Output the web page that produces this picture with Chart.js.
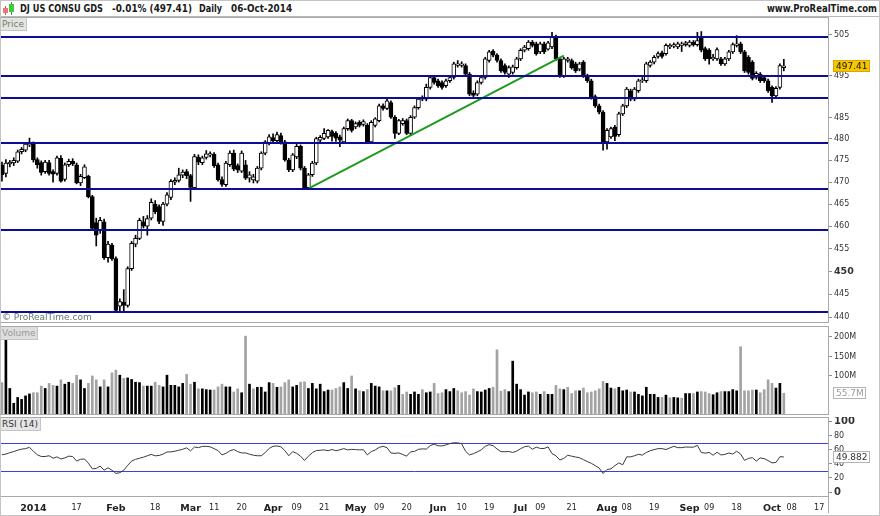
<!DOCTYPE html>
<html>
<head>
<meta charset="utf-8">
<script src="https://cdn.jsdelivr.net/npm/chart.js@4.4.1/dist/chart.umd.min.js"></script>
<style>
  body { margin: 0; background: #fff; font-family: "DejaVu Sans", sans-serif; }
  #wrap { position: relative; width: 880px; height: 516px; overflow: hidden; background: #fff; }
  .pane { position: absolute; left: 0; width: 880px; }
  .txt { position: absolute; white-space: nowrap; font-family: "DejaVu Sans", sans-serif; }
  .tag { position: absolute; left: 0; font-size: 9px; line-height: 12px; padding: 0 2px; border-right: 1px solid #c4c4c4; border-bottom: 1px solid #c4c4c4; }
  .head { top: 2px; font-size: 10.5px; font-weight: bold; color: #1a1a1a; transform-origin: 0 0; }
</style>
</head>
<body>
<div id="wrap">
  <!-- header -->
  <div style="position:absolute;left:0;top:0;width:880px;height:17px;border-bottom:1px solid #b8b8b8;box-sizing:border-box;"></div>
  <div style="position:absolute;left:5px;top:6px;width:1px;height:9px;background:#c05050"></div>
  <div style="position:absolute;left:3px;top:8px;width:5px;height:5px;background:#e87878"></div>
  <div style="position:absolute;left:11px;top:2px;width:1px;height:13px;background:#2a9a2a"></div>
  <div style="position:absolute;left:9px;top:4px;width:5px;height:8px;background:#44c844"></div>
  <span class="txt head" style="left:20px" data-w="83">DJ US CONSU GDS</span>
  <span class="txt head" style="left:112px" data-w="80">-0.01% (497.41)</span>
  <span class="txt head" style="left:199px" data-w="23">Daily</span>
  <span class="txt head" style="left:231px" data-w="61">06-Oct-2014</span>
  <span class="txt head" style="left:767px" data-w="110">www.ProRealTime.com</span>

  <div class="pane" style="top:17px;height:306px"><canvas id="price" width="880" height="306"></canvas></div>
  <div class="pane" style="top:326px;height:89px"><canvas id="volume" width="880" height="89"></canvas></div>
  <div class="pane" style="top:417px;height:99px"><canvas id="rsi" width="880" height="99"></canvas></div>

  <div class="tag txt" style="top:18px;background:#e4e4e4;color:#6e7f5e">Price</div>
  <span class="txt" style="left:2px;top:312px;font-size:9px;color:#5f7a68">© ProRealTime.com</span>
  <div class="tag txt" style="top:327px;background:#dedede;color:#9a9a9a">Volume</div>
  <div class="tag txt" style="top:418px;background:#e6e6e6;color:#333">RSI (14)</div>
  <div style="position:absolute;left:0;top:0;width:880px;height:516px;border:1px solid #c4c4c4;box-sizing:border-box;pointer-events:none"></div>
</div>

<script>
// trading days, Dec 19 2013 .. Oct 21 2014 (last 11 are empty future slots)
const tradingDays = {
  "2013-12": [19, 20, 23, 24, 26, 27, 30, 31],
  "2014-01": [2, 3, 6, 7, 8, 9, 10, 13, 14, 15, 16, 17, 21, 22, 23, 24, 27, 28, 29, 30, 31],
  "2014-02": [3, 4, 5, 6, 7, 10, 11, 12, 13, 14, 18, 19, 20, 21, 24, 25, 26, 27, 28],
  "2014-03": [3, 4, 5, 6, 7, 10, 11, 12, 13, 14, 17, 18, 19, 20, 21, 24, 25, 26, 27, 28, 31],
  "2014-04": [1, 2, 3, 4, 7, 8, 9, 10, 11, 14, 15, 16, 17, 21, 22, 23, 24, 25, 28, 29, 30],
  "2014-05": [1, 2, 5, 6, 7, 8, 9, 12, 13, 14, 15, 16, 19, 20, 21, 22, 23, 27, 28, 29, 30],
  "2014-06": [2, 3, 4, 5, 6, 9, 10, 11, 12, 13, 16, 17, 18, 19, 20, 23, 24, 25, 26, 27, 30],
  "2014-07": [1, 2, 3, 7, 8, 9, 10, 11, 14, 15, 16, 17, 18, 21, 22, 23, 24, 25, 28, 29, 30, 31],
  "2014-08": [1, 4, 5, 6, 7, 8, 11, 12, 13, 14, 15, 18, 19, 20, 21, 22, 25, 26, 27, 28, 29],
  "2014-09": [2, 3, 4, 5, 8, 9, 10, 11, 12, 15, 16, 17, 18, 19, 22, 23, 24, 25, 26, 29, 30],
  "2014-10": [1, 2, 3, 6, 7, 8, 9, 10, 13, 14, 15, 16, 17, 20, 21]
};

// [date, text, bold]
const xTicks = [
  ["2014-01-02", "2014", 1], ["2014-01-17", "17", 0], ["2014-02-03", "Feb", 1], ["2014-02-18", "18", 0],
  ["2014-03-03", "Mar", 1], ["2014-03-11", "11", 0], ["2014-03-20", "20", 0], ["2014-04-01", "Apr", 1],
  ["2014-04-09", "09", 0], ["2014-04-21", "21", 0], ["2014-05-01", "May", 1], ["2014-05-09", "09", 0],
  ["2014-05-20", "20", 0], ["2014-06-02", "Jun", 1], ["2014-06-10", "10", 0], ["2014-06-19", "19", 0],
  ["2014-07-01", "Jul", 1], ["2014-07-09", "09", 0], ["2014-07-21", "21", 0], ["2014-08-01", "Aug", 1],
  ["2014-08-08", "08", 0], ["2014-08-19", "19", 0], ["2014-09-02", "Sep", 1], ["2014-09-09", "09", 0],
  ["2014-09-18", "18", 0], ["2014-10-01", "Oct", 1], ["2014-10-08", "08", 0], ["2014-10-17", "17", 0]
];

const opens = [
  474.0,472.0,474.2,474.4,474.8,477.0,477.4,478.6,479.0,475.2,
  474.5,472.4,474.5,472.4,472.0,475.5,470.6,474.0,474.8,474.0,
  469.8,471.0,471.3,466.7,460.8,459.0,461.0,453.0,455.8,452.8,
  442.4,443.3,442.6,450.6,456.0,457.3,461.0,460.0,461.8,465.0,
  464.4,461.1,465.0,466.5,470.0,470.4,471.6,472.4,471.5,468.7,
  475.8,474.5,475.7,476.2,476.4,474.0,470.6,469.4,474.0,476.7,
  473.8,472.5,474.0,470.9,470.5,470.2,473.2,476.7,479.0,480.3,
  479.6,480.8,479.3,475.1,472.8,475.8,478.3,473.2,468.7,471.7,
  474.4,479.7,480.1,480.5,481.7,481.3,480.5,479.3,482.4,484.3,
  482.8,483.9,483.4,483.2,479.3,483.2,484.3,487.8,487.2,488.6,
  485.1,481.3,483.6,484.3,481.3,485.1,487.4,489.8,489.4,492.2,
  494.6,493.8,493.4,492.6,493.8,494.6,497.5,497.5,497.5,495.4,
  490.8,490.6,493.4,494.6,498.7,501.0,500.0,498.7,497.5,495.4,
  495.8,497.0,499.1,501.2,501.6,503.2,502.8,500.8,502.8,501.5,
  502.0,504.5,499.1,495.0,498.7,498.7,497.9,496.6,498.3,495.0,
  493.8,490.0,487.8,486.3,479.3,480.5,482.8,481.0,485.9,487.8,
  491.4,489.4,491.4,493.8,493.8,497.5,498.3,499.7,500.6,500.4,
  502.0,502.2,502.0,502.4,502.6,502.4,503.2,502.6,504.4,501.6,
  501.2,499.1,499.1,499.1,497.9,499.1,500.8,502.4,502.8,500.8,
  499.5,498.3,494.6,495.4,494.6,493.8,492.2,490.2,492.2,497.0
];
const highs = [
  474.6,475.2,475.0,475.6,477.4,478.0,479.0,480.2,479.3,475.6,
  474.9,475.0,475.0,472.8,476.0,476.1,474.4,475.3,475.4,474.4,
  471.8,474.0,471.6,467.0,461.8,462.0,461.6,456.6,456.2,453.2,
  444.0,446.0,451.0,456.6,458.0,461.8,462.2,462.4,466.2,465.8,
  464.8,465.4,467.6,470.6,471.0,473.2,472.8,472.9,471.8,476.4,
  476.3,476.0,477.3,477.0,476.8,474.4,471.2,474.8,477.2,477.4,
  474.2,477.2,475.0,472.4,471.8,473.6,477.0,479.6,481.0,481.2,
  481.6,481.4,479.7,475.5,476.6,478.8,478.6,473.6,472.0,474.8,
  480.4,480.8,482.4,482.2,482.1,481.7,480.9,482.8,484.7,484.6,
  484.0,484.3,484.5,483.6,484.3,485.0,488.2,488.3,489.4,489.0,
  485.5,484.6,484.8,484.7,485.5,487.8,489.8,490.2,493.0,495.0,
  495.0,494.2,493.8,494.2,495.0,498.3,498.7,498.4,497.9,495.8,
  491.4,493.8,495.0,499.5,501.2,501.4,500.4,499.1,497.9,497.4,
  497.6,499.5,501.6,502.4,503.6,503.6,503.2,503.2,503.2,503.4,
  505.6,504.9,499.5,499.5,499.5,499.1,498.3,498.3,498.7,495.4,
  494.2,490.4,488.2,486.7,482.4,482.8,483.2,486.3,488.2,492.2,
  491.8,492.2,494.2,494.6,498.3,498.7,499.9,500.8,501.0,502.8,
  502.8,503.0,503.2,503.2,503.4,503.6,503.6,505.6,505.8,502.0,
  501.6,500.2,501.8,499.5,499.5,501.2,503.0,504.8,503.2,501.2,
  499.9,498.7,496.0,495.8,495.0,494.2,492.6,492.4,497.9,499.0
];
const lows = [
  470.2,471.2,473.5,473.8,474.5,476.5,477.0,478.2,474.6,473.2,
  471.6,472.0,471.6,470.0,471.6,470.0,470.2,473.6,473.8,469.6,
  469.2,470.8,466.4,459.2,455.6,458.4,452.6,452.0,452.4,441.0,
  441.0,441.2,442.2,450.2,455.4,457.0,459.6,458.0,461.4,462.8,
  460.6,460.2,464.6,466.0,469.4,470.0,471.0,470.8,465.6,468.4,
  474.0,474.0,475.3,475.8,473.4,470.2,469.0,469.0,473.6,472.6,
  472.2,472.2,470.6,470.0,469.8,469.8,472.8,476.3,478.6,479.2,
  479.2,478.8,474.8,472.4,472.4,475.4,472.8,468.3,468.4,471.3,
  474.0,479.3,479.8,480.1,479.5,479.4,478.2,479.0,482.0,481.6,
  482.4,482.8,483.0,479.0,479.0,482.8,484.0,486.8,486.9,484.8,
  480.1,481.0,483.2,481.0,481.0,484.8,487.0,489.0,489.0,491.8,
  493.0,492.2,491.8,492.2,493.4,494.2,497.1,497.1,495.0,490.2,
  489.5,490.2,493.0,494.2,498.3,499.6,498.3,495.8,495.4,494.6,
  495.4,496.6,498.7,500.8,501.2,502.0,500.0,500.4,500.4,501.2,
  501.6,498.7,494.6,494.6,498.3,496.6,495.8,496.2,494.6,493.4,
  489.4,487.4,485.9,477.4,477.6,480.1,479.6,480.6,485.5,487.4,
  489.0,489.0,491.0,493.4,493.4,497.1,497.9,499.3,499.3,500.0,
  501.6,501.8,501.6,500.9,502.2,502.0,502.2,502.2,500.8,498.7,
  497.8,498.7,498.7,497.5,497.5,498.7,500.4,502.0,500.4,495.8,
  495.4,494.0,494.2,493.4,493.4,491.0,488.6,489.8,491.8,496.2
];
const closes = [
  471.7,474.4,474.6,475.0,477.0,477.6,478.8,479.0,475.1,474.0,
  472.2,474.6,472.0,471.8,475.6,470.2,474.0,474.8,474.2,469.8,
  471.3,473.5,466.7,459.5,458.0,461.3,453.0,456.0,452.8,441.5,
  443.4,442.6,450.6,456.2,457.3,461.3,460.0,461.7,465.4,463.3,
  461.1,465.0,467.1,470.2,470.4,471.7,472.3,471.5,468.8,475.9,
  474.6,475.6,476.5,476.6,473.8,470.5,469.5,474.4,476.7,473.0,
  472.8,476.7,470.9,471.7,471.2,473.2,476.7,479.3,480.5,479.6,
  481.0,479.3,475.1,472.8,476.3,478.3,473.2,468.7,471.7,474.4,
  480.1,480.4,481.3,482.0,480.6,480.2,479.7,482.4,484.3,482.0,
  483.6,483.2,484.1,479.3,483.9,484.7,487.8,487.2,489.0,485.1,
  481.3,484.3,484.3,481.3,485.1,487.4,489.4,489.4,492.2,494.6,
  493.4,492.6,492.2,493.8,494.6,497.9,497.9,497.9,495.4,490.6,
  490.3,493.4,494.6,499.1,500.8,500.0,498.7,496.2,495.8,497.0,
  497.2,499.1,501.2,502.0,503.2,502.4,500.4,502.8,500.8,503.0,
  504.5,499.1,495.0,499.1,499.1,497.0,496.2,497.9,495.0,493.8,
  489.8,487.8,486.3,479.3,482.0,482.4,480.6,485.9,487.8,491.8,
  489.4,491.8,493.8,494.0,497.9,498.3,499.5,500.4,499.7,502.4,
  502.4,502.6,502.8,502.8,503.0,503.2,502.6,503.6,501.2,499.1,
  499.1,499.5,501.4,497.9,499.1,500.8,502.6,502.8,500.8,496.2,
  495.8,494.4,495.6,493.8,493.8,491.4,490.2,492.0,497.46,497.41
];

// volume in millions
const volumes = [
  83,197,68,30,45,40,49,54,57,57,
  74,68,81,76,74,90,79,84,81,102,
  90,68,81,100,90,72,90,72,108,115,
  102,94,95,91,84,83,74,74,74,84,
  76,72,102,76,76,72,81,104,79,84,
  67,67,65,64,64,72,79,72,72,59,
  67,57,202,79,67,71,71,59,83,81,
  71,72,83,90,72,76,84,85,68,81,
  67,79,60,64,64,68,72,83,68,100,
  67,62,60,65,81,74,72,62,62,62,
  70,76,53,59,53,59,53,65,57,59,
  81,55,57,65,60,68,62,57,60,51,
  67,60,59,64,68,71,167,61,65,60,
  138,79,65,51,59,57,59,53,60,53,
  53,76,67,65,71,55,62,62,69,57,
  59,62,67,86,81,69,67,71,62,64,
  59,59,53,49,71,53,53,45,45,51,
  44,45,44,43,55,55,55,59,60,59,
  55,52,57,60,60,60,65,62,175,62,
  62,64,64,57,65,90,81,69,81,55.7
];

const rsiValues = [
  53,54,56,57.5,59.5,61,61.7,63.5,58,53,
  50.5,50.5,51.6,48,50,47,48.5,51,50.5,44,
  46.5,47,41,33,33.5,37,31,34.5,31,26.5,
  27.5,31,38,44,46.5,48,49.5,51.6,53.5,51.5,
  52,53.9,57,57.1,58,59.4,60.8,62.8,58.5,64,
  63.1,64.8,65,64.3,61.6,59,52.8,55,58.5,60.5,
  57.5,55.6,55.6,53.8,52.3,51.6,51.6,56,62,65,
  65.5,64.3,59,51.6,57.5,55,51,44.8,51,56,
  59,59.4,59.9,58.7,60.5,58.7,60,61.7,59.9,60.7,
  60.3,60,60.2,52.8,57.5,59.8,63.5,65,63.1,55.5,
  55,55.6,53.4,51,57.1,57.8,60.7,61.4,61,66,
  68.1,65.8,65.5,67,69,70,70,68.5,58,52.8,
  54.5,57.1,60,65,67.3,66,61.2,57.4,57.3,57.6,
  56.3,58.2,61.6,64.4,65.3,60.8,63.8,62,61.9,64.2,
  54.6,51.5,45.5,47.9,52.3,51,49.8,48.7,46,43.3,
  40.8,37.5,34,26.3,32,33,37.5,41.4,38.7,50,
  50,51.6,53.6,52.5,56.2,58.8,60.3,61.7,61.7,60.4,
  62.8,65,63.1,63.1,64,63.8,63.8,66.3,56.2,55.3,
  56.4,52.3,56.5,52.7,53.5,55.5,54,58,54,45,
  47.8,48.8,44,48.5,47.5,44.7,41.4,42,50.2,49.882
];

const supportLevels = [504.4, 495.0, 489.7, 479.0, 468.5, 459.1, 441.2];
const trendLine = [{ x: "2014-04-14", y: 468.5 }, { x: "2014-07-17", y: 499.9 }];
const priceTicks = [440, 445, 450, 455, 460, 465, 470, 475, 480, 485, 495, 505];
const volumeTicks = [100, 150, 200];
const rsiTicks = [0, 20, 40, 60, 80, 100];
const rsiBands = [70, 30];

// squeeze header texts to the widths seen in the original (Tahoma is narrower than DejaVu)
document.querySelectorAll(".head").forEach((el) => {
  const target = Number(el.dataset.w);
  const w = el.getBoundingClientRect().width;
  if (w > 0) el.style.transform = "scaleX(" + (target / w).toFixed(3) + ")";
});

const dates = [];
Object.entries(tradingDays).forEach(([m, days]) => {
  days.forEach((d) => dates.push(m + "-" + String(d).padStart(2, "0")));
});
const tickByDate = new Map(xTicks.map((t) => [t[0], t]));

const FONT = "DejaVu Sans";
const AXIS_W = 51;

// right axis, fixed width so the three panels line up
function rightAxis(extra) {
  return Object.assign({
    position: "right",
    border: { display: false },
    grid: { drawOnChartArea: false, drawTicks: true, tickLength: 3, tickColor: "#8c8c8c" },
    afterFit(s) {
      s.width = AXIS_W;
      s.paddingTop = 0;
      s.paddingBottom = 0;
    },
  }, extra);
}

function hiddenX() {
  return { type: "category", offset: true, display: false, grid: { display: false } };
}

// gray frame around the plot area
const framePlugin = {
  id: "frame",
  afterDraw(chart, args, opts) {
    const a = chart.chartArea, ctx = chart.ctx;
    ctx.save();
    ctx.strokeStyle = "#a9a9a9";
    ctx.lineWidth = 1;
    ctx.strokeRect(a.left + 0.5, a.top + 0.5, a.right - a.left - 1, a.bottom - a.top - 1);
    if (opts && opts.down) {
      ctx.beginPath();
      ctx.moveTo(a.right - 0.5, a.bottom);
      ctx.lineTo(a.right - 0.5, chart.height - 3);
      ctx.stroke();
    }
    ctx.restore();
  },
};

function drawTag(chart, value, text, style) {
  const s = chart.scales.y, ctx = chart.ctx;
  const y = Math.round(s.getPixelForValue(value));
  ctx.save();
  ctx.font = style.font;
  const w = Math.ceil(ctx.measureText(text).width) + 5;
  const x = chart.chartArea.right + 4;
  ctx.fillStyle = style.bg;
  ctx.fillRect(x, y - 6, w, 12);
  ctx.strokeStyle = style.border;
  ctx.strokeRect(x + 0.5, y - 5.5, w - 1, 11);
  ctx.fillStyle = style.color;
  ctx.textBaseline = "middle";
  ctx.fillText(text, x + 3, y + 0.5);
  ctx.restore();
}

// horizontal support/resistance lines + last price tag
const pricePlugin = {
  id: "priceExtras",
  afterDatasetsDraw(chart) {
    const a = chart.chartArea, ctx = chart.ctx, s = chart.scales.y;
    ctx.save();
    ctx.strokeStyle = "#0c0c96";
    ctx.lineWidth = 2;
    supportLevels.forEach((v) => {
      const y = Math.round(s.getPixelForValue(v));
      ctx.beginPath();
      ctx.moveTo(a.left, y);
      ctx.lineTo(a.right, y);
      ctx.stroke();
    });
    ctx.restore();
  },
  afterDraw(chart) {
    drawTag(chart, closes[closes.length - 1], closes[closes.length - 1].toFixed(2),
      { font: "9px " + FONT, bg: "#f6c700", border: "#d8a800", color: "#111" });
  },
};

const volumePlugin = {
  id: "volumeTag",
  afterDraw(chart) {
    drawTag(chart, volumes[volumes.length - 1], volumes[volumes.length - 1] + "M",
      { font: "9px " + FONT, bg: "#fff", border: "#b4b4b4", color: "#9a9a9a" });
  },
};

const rsiPlugin = {
  id: "rsiExtras",
  beforeDatasetsDraw(chart) {
    const a = chart.chartArea, ctx = chart.ctx, s = chart.scales.y;
    ctx.save();
    ctx.strokeStyle = "#3d3de0";
    ctx.lineWidth = 1;
    rsiBands.forEach((v) => {
      const y = Math.round(s.getPixelForValue(v)) + 0.5;
      ctx.beginPath();
      ctx.moveTo(a.left, y);
      ctx.lineTo(a.right, y);
      ctx.stroke();
    });
    ctx.restore();
  },
  afterDraw(chart) {
    drawTag(chart, rsiValues[rsiValues.length - 1], String(rsiValues[rsiValues.length - 1]),
      { font: "9px " + FONT, bg: "#fff", border: "#b4b4b4", color: "#333" });
  },
};

const isUp = closes.map((c, i) => c >= opens[i]);
const volColors = closes.map((c, i) => (c > (i ? closes[i - 1] : opens[i]) ? "#000" : "#a3a3a3"));

// price: candles as floating bars (wick + body)
new Chart(document.getElementById("price"), {
  type: "bar",
  data: {
    labels: dates,
    datasets: [
      {
        label: "body",
        data: opens.map((o, i) => [Math.min(o, closes[i]), Math.max(o, closes[i])]),
        backgroundColor: isUp.map((u) => (u ? "#fff" : "#000")),
        borderColor: "#000",
        borderWidth: 1,
        borderSkipped: false,
        barThickness: 4,
        minBarLength: 1,
        grouped: false,
        order: 1,
      },
      {
        label: "wick",
        data: lows.map((l, i) => [l, highs[i]]),
        backgroundColor: "#000",
        barThickness: 1,
        grouped: false,
        order: 2,
      },
      {
        type: "line",
        label: "trend",
        data: trendLine,
        borderColor: "#1f9a1f",
        borderWidth: 2,
        pointRadius: 0,
        order: 0,
      },
    ],
  },
  options: {
    responsive: false,
    animation: false,
    devicePixelRatio: 1,
    layout: { padding: 0 },
    plugins: { legend: { display: false }, tooltip: { enabled: false }, frame: {} },
    scales: {
      x: hiddenX(),
      y: rightAxis({
        type: "logarithmic",
        min: 438.8,
        max: 509.4,
        afterBuildTicks(s) { s.ticks = priceTicks.map((v) => ({ value: v })); },
        ticks: {
          padding: 2,
          color: "#333",
          callback: (v) => String(v),
          font: (c) => (c.tick && c.tick.value === 450
            ? { family: FONT, size: 9.5, weight: "bold" }
            : { family: FONT, size: 8 }),
        },
      }),
    },
  },
  plugins: [pricePlugin, framePlugin],
});

new Chart(document.getElementById("volume"), {
  type: "bar",
  data: {
    labels: dates,
    datasets: [{
      data: volumes,
      backgroundColor: volColors,
      barThickness: 2,
    }],
  },
  options: {
    responsive: false,
    animation: false,
    devicePixelRatio: 1,
    layout: { padding: 0 },
    plugins: { legend: { display: false }, tooltip: { enabled: false }, frame: {} },
    scales: {
      x: hiddenX(),
      y: rightAxis({
        min: 0,
        max: 228,
        afterBuildTicks(s) { s.ticks = volumeTicks.map((v) => ({ value: v })); },
        ticks: { padding: 2, color: "#333", font: { family: FONT, size: 8 }, callback: (v) => v + "M" },
      }),
    },
  },
  plugins: [volumePlugin, framePlugin],
});

new Chart(document.getElementById("rsi"), {
  type: "line",
  data: {
    labels: dates,
    datasets: [{
      data: rsiValues,
      borderColor: "#3a3a3a",
      borderWidth: 1,
      pointRadius: 0,
      tension: 0,
    }],
  },
  options: {
    responsive: false,
    animation: false,
    devicePixelRatio: 1,
    layout: { padding: 0 },
    plugins: { legend: { display: false }, tooltip: { enabled: false }, frame: { down: true } },
    scales: {
      x: {
        type: "category",
        offset: true,
        grid: { display: false, drawTicks: false },
        border: { display: false },
        afterFit(s) {
          s.height = 19;
          s.paddingLeft = 0;
          s.paddingRight = 0;
        },
        ticks: {
          autoSkip: false,
          maxRotation: 0,
          minRotation: 0,
          padding: 6,
          color: "#222",
          callback: (v) => {
            const t = tickByDate.get(dates[v]);
            return t ? t[1] : "";
          },
          font: (c) => {
            const t = c.tick && tickByDate.get(dates[c.tick.value]);
            return t && t[2] ? { family: FONT, size: 9.5, weight: "bold" } : { family: FONT, size: 8 };
          },
        },
      },
      y: rightAxis({
        min: -7.1,
        max: 106.7,
        afterBuildTicks(s) { s.ticks = rsiTicks.map((v) => ({ value: v })); },
        ticks: {
          padding: 2,
          color: "#333",
          font: (c) => (c.tick && (c.tick.value === 0 || c.tick.value === 100)
            ? { family: FONT, size: 10, weight: "bold" }
            : { family: FONT, size: 8 }),
        },
      }),
    },
  },
  plugins: [rsiPlugin, framePlugin],
});
</script>
</body>
</html>
